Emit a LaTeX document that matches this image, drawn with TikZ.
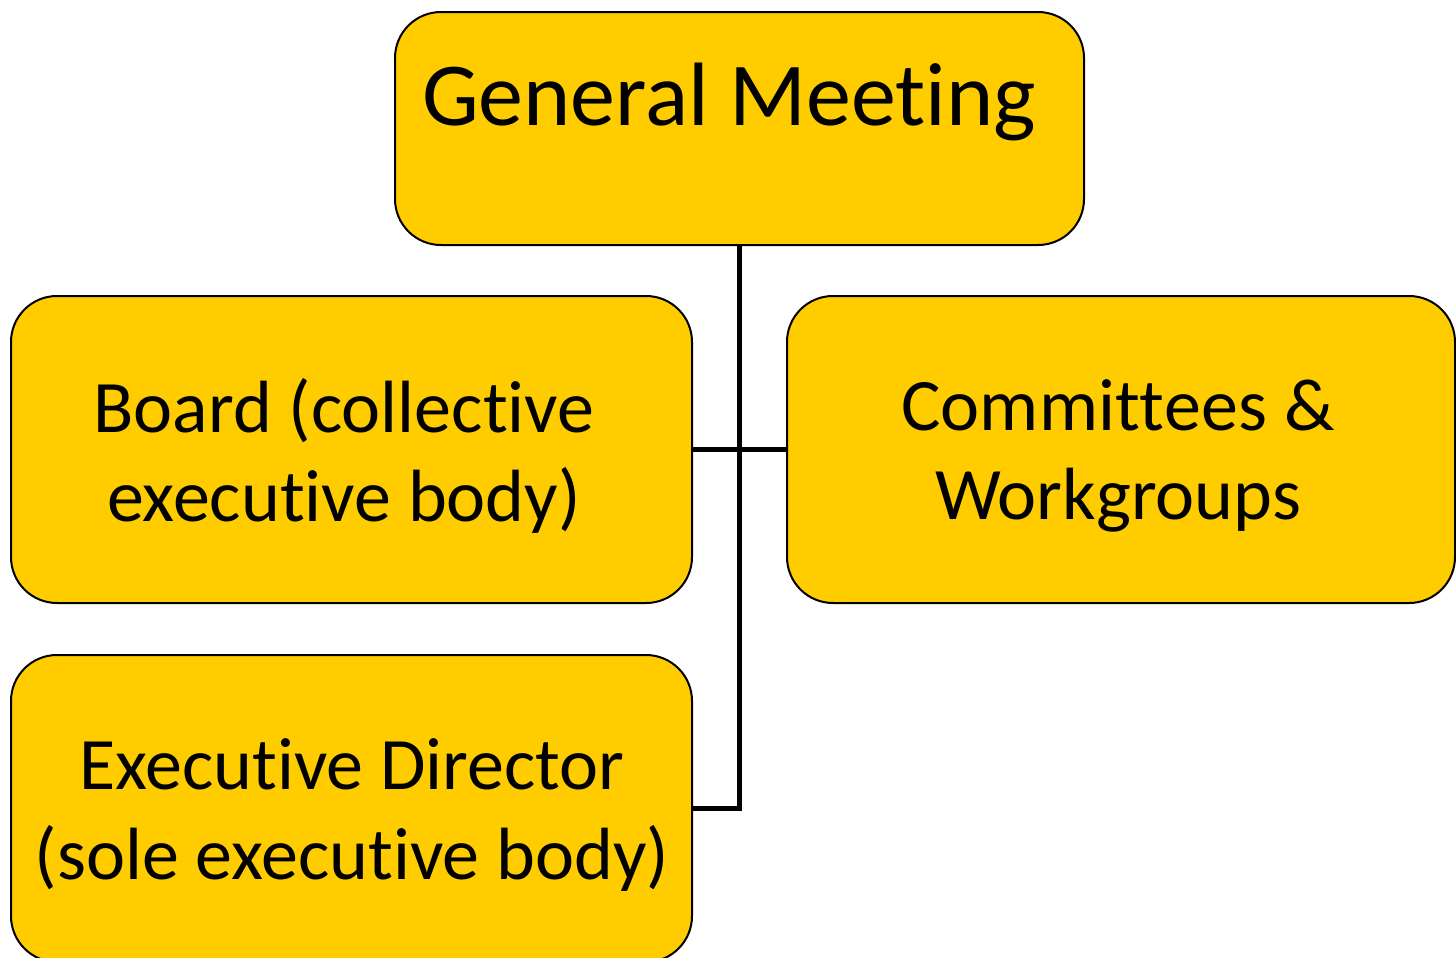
\documentclass[tikz,border=0pt]{standalone}
\usepackage{fontspec}
\setmainfont{Carlito}[Ligatures={NoCommon,NoContextual,NoRare},Contextuals={NoAlternate}]
\newcommand{\nl}{\kern0pt}
\definecolor{boxfill}{HTML}{FFCC00}
\tikzset{
  orgbox/.style={draw=black, line width=1pt, fill=boxfill, rounded corners=23pt, inner sep=0pt},
  bigtext/.style={font=\fontsize{45}{54}\selectfont, inner sep=0pt},
  boxtext/.style={font=\fontsize{37}{44.7}\selectfont, align=center, inner sep=0pt},
  link/.style={draw=black, line width=2.9pt}
}
\begin{document}
\begin{tikzpicture}[x=0.5pt,y=-0.5pt]
\useasboundingbox (0,0) rectangle (1456,958);
\node[orgbox, minimum width=344.5pt, minimum height=116.5pt] (gm) at (739.5,128.5) {};
\node[orgbox, minimum width=340.5pt, minimum height=153.5pt] (board) at (351.5,449.5) {};
\node[orgbox, minimum width=334pt, minimum height=153.5pt] (comm) at (1121,449.5) {};
\node[orgbox, minimum width=340.5pt, minimum height=153.5pt] (exec) at (351.5,808.5) {};
\draw[link] (gm.south) -- (gm.south |- exec.east) -- (exec.east);
\draw[link] (board.east) -- (comm.west);
\node[bigtext, anchor=base] (gmt) at (729,125) {General Meet\nl ing};
\node[boxtext] (boardt) at (344,456) {Board (collect\nl ive\\execut\nl ive body)};
\node[boxtext] (commt) at (1118,456) {Commit\nl t\nl ees \&\\Workgroups};
\node[boxtext] (exect) at (352,815) {Execut\nl ive Director\\(sole execut\nl ive body)};
\end{tikzpicture}
\end{document}
